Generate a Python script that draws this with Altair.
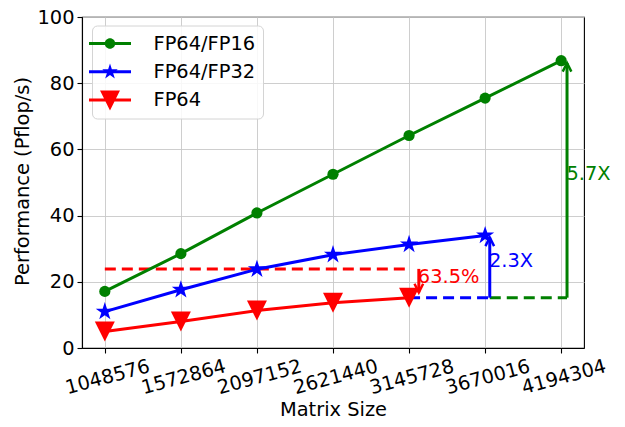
import altair as alt
import numpy as np
import pandas as pd

# ---- measured performance (Pflop/s) per matrix size ----
matrix_sizes = [1048576, 1572864, 2097152, 2621440, 3145728, 3670016, 4194304]
fp16_perf = [17.1, 28.5, 40.8, 52.5, 64.2, 75.5, 86.8]
fp32_perf = [11.0, 17.6, 23.8, 28.2, 31.3, 34.0]
fp64_perf = [5.0, 8.0, 11.3, 13.7, 15.2]

series_names = ["FP64/FP16", "FP64/FP32", "FP64"]
series_colors = ["green", "blue", "red"]

# ---- speed-up annotations ----
fp64_ref_level = 23.9       # FP64/FP32 level the FP64 result is compared with
fp64_base_level = 15.2      # FP64 result at 3145728, base of the speed-up arrows
red_ref_span = [1048576, 3145728]
blue_base_span = [3145728, 3702000]
green_base_span = [3702000, 4234600]
red_arrow = [3213000, 23.9, 16.8]      # x, from, to
blue_arrow = [3702000, 15.2, 33.4]
green_arrow = [4234600, 15.2, 86.1]
ann_labels = ["63.5%", "2.3X", "5.7X"]
ann_x = [3206000, 3696000, 4231000]
ann_y = [19.5, 24.6, 50.8]

FONT = "DejaVu Sans"
FS = 19.4

series_values = dict(zip(series_names, [fp16_perf, fp32_perf, fp64_perf]))
rows = []
for name in series_names:
    for s, v in zip(matrix_sizes, series_values[name]):
        rows.append({"size": s, "perf": v, "series": name})
perf = pd.DataFrame(rows)

x_scale = alt.Scale(domain=[891290, 4351590], nice=False, zero=False)
y_scale = alt.Scale(domain=[0, 100], nice=False, zero=True)
color_scale = alt.Scale(domain=series_names, range=series_colors)

x_axis = alt.Axis(values=matrix_sizes, format="d", title="Matrix Size",
                  labelAngle=-15, labelAlign="center", labelBaseline="top",
                  labelPadding=15, tickSize=5, labelOverlap=False,
                  titleX=251, titleY=67.5, titleBaseline="alphabetic", titleAlign="center")
y_axis = alt.Axis(values=[0, 20, 40, 60, 80, 100], title="Performance (Pflop/s)",
                  tickSize=5, labelPadding=3, labelOverlap=False,
                  titleAngle=-90, titleX=-54, titleY=164,
                  titleAlign="center", titleBaseline="alphabetic")


def X(field):
    return alt.X(field, type="quantitative", scale=x_scale, axis=x_axis)


def Y(field):
    return alt.Y(field, type="quantitative", scale=y_scale, axis=y_axis)


def star_path(r_out, r_in, n=5):
    pts = []
    for k in range(2 * n):
        a = -np.pi / 2 + k * np.pi / n
        r = r_out if k % 2 == 0 else r_in
        pts.append(f"{r * np.cos(a):.4f},{r * np.sin(a):.4f}")
    return "M" + " L".join(pts) + " Z"


def circle_path(r):
    return f"M{r},0 A{r},{r} 0 1,1 {-r},0 A{r},{r} 0 1,1 {r},0 Z"


tri_down = "M-1,-1 L1,-1 L0,1 Z"
star = star_path(1.0, 0.382)
arrow_head = "M-0.5,1 L0,0 L0.5,1"

# legend handles: a line segment with the series marker on top of it
bar = "M-2,-0.143 L2,-0.143 L2,0.143 L-2,0.143 Z "
legend_shapes = [
    bar + circle_path(0.5),
    bar + star_path(0.78, 0.3),
    bar + "M-0.95,-0.92 L0.95,-0.92 L0,0.98 Z",
]
LEGEND_SIZE = 441

base = alt.Chart(perf)


def hdash(span, level, color):
    d = pd.DataFrame({"x0": [span[0]], "x1": [span[1]], "y": [level]})
    return alt.Chart(d).mark_rule(color=color, strokeWidth=3, strokeDash=[11, 6]).encode(
        x=X("x0"), x2="x1:Q", y=Y("y"))


def arrow(spec, color, angle):
    d = pd.DataFrame({"x": [spec[0]], "y0": [spec[1]], "y1": [spec[2]]})
    shaft = alt.Chart(d).mark_rule(color=color, strokeWidth=3).encode(
        x=X("x"), y=Y("y0"), y2="y1:Q")
    head = alt.Chart(d).mark_point(shape=arrow_head, size=300, filled=False, color=color,
                                   strokeWidth=2.5, opacity=1, angle=angle).encode(
        x=X("x"), y=Y("y1"))
    return shaft + head


marker_shapes = {"FP64/FP16": ("circle", 125), "FP64/FP32": (star, 365), "FP64": (tri_down, 400)}
series_layers = []
for name, col in zip(series_names, series_colors):
    shp, sz = marker_shapes[name]
    sub = base.transform_filter(alt.datum.series == name)
    series_layers.append(sub.mark_line(strokeWidth=3, color=col).encode(x=X("size"), y=Y("perf")))
    series_layers.append(
        sub.mark_point(shape=shp, size=sz, filled=True, opacity=1, color=col)
        .encode(x=X("size"), y=Y("perf"))
    )

legend_def = alt.Legend(title=None, orient="none", legendX=10, legendY=8.5, direction="vertical",
                        symbolSize=LEGEND_SIZE, symbolStrokeWidth=0, symbolOpacity=1,
                        labelFont=FONT, labelFontSize=FS, labelColor="black", labelOffset=33,
                        rowPadding=8.3, padding=7.5, fillColor="rgba(255,255,255,0.85)",
                        strokeColor="#d4d4d4", cornerRadius=5)
legend_layer = base.transform_filter("false").mark_point(filled=True, size=LEGEND_SIZE, opacity=1).encode(
    x=X("size"), y=Y("perf"),
    color=alt.Color("series:N", scale=color_scale, legend=legend_def),
    shape=alt.Shape("series:N", scale=alt.Scale(domain=series_names, range=legend_shapes),
                    legend=legend_def),
)

texts = []
for lab, xv, yv, col in zip(ann_labels, ann_x, ann_y, ["red", "blue", "green"]):
    d = pd.DataFrame({"x": [xv], "y": [yv], "t": [lab]})
    texts.append(alt.Chart(d).mark_text(align="left", baseline="alphabetic", font=FONT,
                                        fontSize=FS, color=col).encode(
        x=X("x"), y=Y("y"), text="t:N"))

chart = alt.layer(
    hdash(red_ref_span, fp64_ref_level, "red"),
    hdash(blue_base_span, fp64_base_level, "blue"),
    hdash(green_base_span, fp64_base_level, "green"),
    *series_layers,
    arrow(red_arrow, "red", 180),
    arrow(blue_arrow, "blue", 0),
    arrow(green_arrow, "green", 0),
    *texts,
    legend_layer,
).properties(
    width=502, height=331, autosize="none",
    padding={"left": 82, "top": 17, "right": 41, "bottom": 79},
    background="white",
).configure_view(stroke="black", strokeWidth=1.1).configure_axis(
    labelFont=FONT, labelFontSize=FS, labelColor="black",
    titleFont=FONT, titleFontSize=FS, titleFontWeight="normal", titleColor="black",
    domainColor="black", domainWidth=1.1, tickColor="black", tickWidth=1.1,
    gridColor="#c8c8c8", gridWidth=0.9,
)

chart.save("out.html", embed_options={"renderer": "svg", "actions": False})
